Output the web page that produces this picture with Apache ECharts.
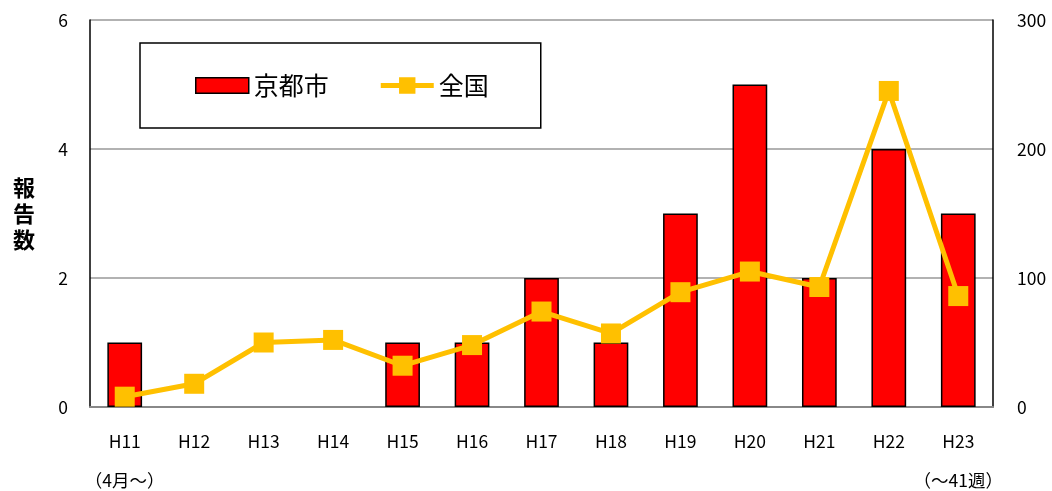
<!DOCTYPE html>
<html><head><meta charset="utf-8">
<script src="https://cdn.jsdelivr.net/npm/echarts@6/dist/echarts.min.js"></script>
<style>html,body{margin:0;padding:0;background:#fff}#c{width:1052px;height:491px}</style>
</head><body><div id="c"></div>
<script>
const categories = ['H11','H12','H13','H14','H15','H16','H17','H18','H19','H20','H21','H22','H23'];
const subLabels = ['（4月～）','','','','','','','','','','','','（～41週）'];
const kyotoValues = [1,0,0,0,1,1,2,1,3,5,2,4,3];
const nationalValues = [8,18,50,52,32,48,74,57,89,105,93,245,86];
const leftTicks = [0,2,4,6];
const rightTicks = [0,100,200,300];

const font = '"Noto Sans CJK JP", "Noto Sans", sans-serif';
const chart = echarts.init(document.getElementById('c'));
chart.setOption({
  animation: false,
  textStyle: {fontFamily: font},
  grid: {left: 90, right: 59, top: 20, bottom: 84, containLabel: false, outerBoundsMode: 'none'},
  legend: {
    left: 140, top: 43,
    padding: [30, 52, 30, 55],
    borderColor: '#000', borderWidth: 1.5,
    itemGap: 52, itemWidth: 53, itemHeight: 17,
    textStyle: {fontSize: 25, color: '#000', fontFamily: font},
    data: [
      {name: '京都市', icon: 'path://M0,1 L51,1 L51,16 L0,16 Z', itemStyle: {color: '#FF0000', borderColor: '#000', borderWidth: 1.5}},
      {name: '全国', icon: 'path://M0,6 L19,6 L19,0 L36,0 L36,6 L55,6 L55,11 L36,11 L36,17 L19,17 L19,11 L0,11 Z', itemStyle: {color: '#FFC000', borderWidth: 0}}
    ]
  },
  xAxis: {
    type: 'category', data: categories,
    axisLine: {lineStyle: {color: '#888', width: 2}},
    axisTick: {show: false},
    axisLabel: {
      interval: 0, margin: 15, fontSize: 17.5, color: '#000', lineHeight: 39,
      formatter: (v, i) => subLabels[i] ? v + '\n' + subLabels[i] : v
    }
  },
  yAxis: [
    {type: 'value', min: 0, max: 6, interval: 2,
     name: '報\n告\n数', nameLocation: 'middle', nameGap: 55, nameRotate: 0,
     nameTextStyle: {fontSize: 22, fontWeight: 'bold', color: '#000', lineHeight: 26, padding: [18, 0, 0, 0]},
     axisLine: {show: true, lineStyle: {color: '#000', width: 1.5}},
     axisTick: {show: false},
     axisLabel: {margin: 22, fontSize: 17.5, color: '#000', formatter: v => leftTicks.includes(v) ? v : ''},
     splitLine: {lineStyle: {color: '#999', width: 1.5}}},
    {type: 'value', min: 0, max: 300, interval: 100,
     axisLine: {show: true, lineStyle: {color: '#000', width: 1.5}},
     axisTick: {show: false},
     axisLabel: {margin: 24, fontSize: 17.5, color: '#000', formatter: v => rightTicks.includes(v) ? v : ''},
     splitLine: {show: false}}
  ],
  series: [
    {name: '京都市', type: 'bar', yAxisIndex: 0, data: kyotoValues.map(v => v === 0 ? null : v), barWidth: '50%',
     itemStyle: {color: '#FF0000', borderColor: '#000', borderWidth: 1.5}},
    {name: '全国', type: 'line', yAxisIndex: 1, data: nationalValues,
     symbol: 'rect', symbolSize: 20,
     lineStyle: {color: '#FFC000', width: 5},
     itemStyle: {color: '#FFC000'}}
  ]
});
</script></body></html>
